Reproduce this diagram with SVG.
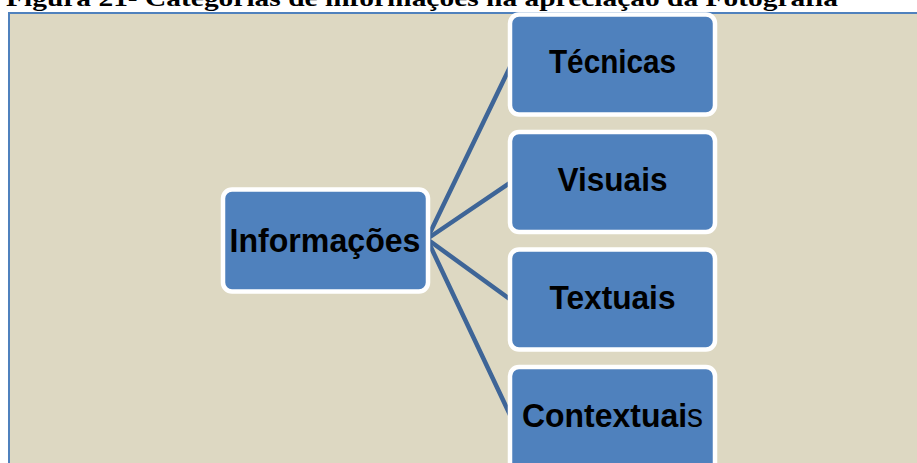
<svg xmlns="http://www.w3.org/2000/svg" width="917" height="463" viewBox="0 0 917 463">
<style>
.box{fill:#4F81BD;stroke:#FFFFFF;stroke-width:4.5}
.lbl{font-family:"Liberation Sans",Arial,sans-serif;font-weight:bold;font-size:34px;fill:#000;text-anchor:middle}
.con{stroke:#3E6597;stroke-width:4.5;fill:none;stroke-linecap:round}
</style>
<rect x="0" y="0" width="917" height="463" fill="#FFFFFF"/>
<text x="6" y="6" font-family="'Liberation Serif','Times New Roman',serif" font-weight="bold" font-size="23" textLength="832" lengthAdjust="spacingAndGlyphs">Figura 21- Categorias de informações na apreciação da Fotografia</text>
<rect x="9" y="13" width="912" height="455" fill="#DDD8C2" stroke="#4F81BD" stroke-width="2"/>
<g id="connectors">
<line class="con" x1="427" y1="239" x2="511" y2="65"/>
<line class="con" x1="427" y1="239" x2="511" y2="182"/>
<line class="con" x1="427" y1="239" x2="511" y2="300"/>
<line class="con" x1="427" y1="239" x2="511" y2="417"/>
</g>
<g id="informacoes">
<rect class="box" x="223" y="189.5" width="205" height="102" rx="9"/>
<text class="lbl" x="325" y="252" textLength="191" lengthAdjust="spacingAndGlyphs">Informações</text>
</g>
<g id="tecnicas">
<rect class="box" x="510" y="14.5" width="205" height="100" rx="9"/>
<text class="lbl" x="612.5" y="73" textLength="127" lengthAdjust="spacingAndGlyphs">Técnicas</text>
</g>
<g id="visuais">
<rect class="box" x="510" y="132" width="205" height="100" rx="9"/>
<text class="lbl" x="612.5" y="191" textLength="110" lengthAdjust="spacingAndGlyphs">Visuais</text>
</g>
<g id="textuais">
<rect class="box" x="510" y="249.5" width="205" height="100" rx="9"/>
<text class="lbl" x="612.5" y="309" textLength="126" lengthAdjust="spacingAndGlyphs">Textuais</text>
</g>
<g id="contextuais">
<rect class="box" x="510" y="367" width="205" height="110" rx="9"/>
<text class="lbl" x="612.5" y="427" textLength="181" lengthAdjust="spacingAndGlyphs">Contextuai<tspan font-weight="normal">s</tspan></text>
</g>
</svg>
